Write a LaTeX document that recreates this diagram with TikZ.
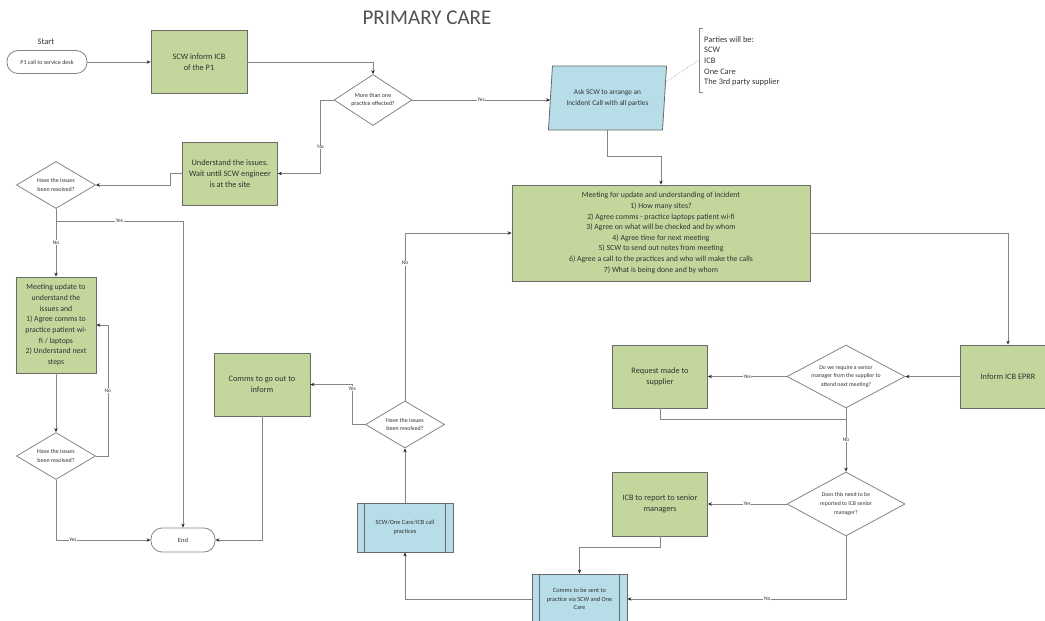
\documentclass[tikz,border=0pt]{standalone}
\usepackage{fontspec}
\setmainfont{Carlito}
\usepackage{xcolor}
\usepackage{tikz}
\usetikzlibrary{arrows.meta, shapes.geometric, calc}

\definecolor{boxgreen}{HTML}{C3D69B}
\definecolor{boxblue}{HTML}{B7DDE8}
\definecolor{boxline}{HTML}{6A6A6A}
\definecolor{linegrey}{HTML}{858585}
\definecolor{txt}{HTML}{333333}

\begin{document}
\begin{tikzpicture}[
        x = 1pt, y = -1pt, % one unit per pixel, y grows downwards
        > = {Stealth[length=4pt, width=3.4pt, color=black!85]}, % arrow head style
        flow/.style = {draw=linegrey, line width=0.8pt}, % connector style
        box/.style = {rectangle, draw=boxline, line width=0.8pt, fill=boxgreen,
            align=center, minimum width=95, minimum height=63, inner sep=1pt,
            text=txt, font=\fontsize{8.3}{10.7}\selectfont},
        subproc/.style = {box, fill=boxblue, font=\fontsize{6.3}{8.6}\selectfont},
        inputbox/.style = {trapezium, trapezium left angle=80, trapezium right angle=100,
            trapezium stretches=true, draw=boxline, line width=0.8pt, fill=boxblue,
            align=center, inner sep=0pt, text=txt, font=\fontsize{7.3}{10.7}\selectfont},
        decision/.style = {diamond, draw=linegrey, line width=0.8pt, fill=white,
            align=center, inner sep=0pt, text=txt, font=\fontsize{6}{8.6}\selectfont},
        terminal/.style = {rectangle, rounded corners=11pt, draw=linegrey, line width=0.8pt,
            align=center, text=txt, font=\fontsize{6}{8}\selectfont},
        lab/.style = {fill=white, inner sep=0.6pt, text=txt, font=\fontsize{5.5}{6}\selectfont},
    ]
    \useasboundingbox (0,0) rectangle (1045,621);

    % Title and start
    \node[text=txt!85, font=\fontsize{21}{25}\selectfont] (title) at (427,18) {PRIMARY CARE};
    \node[text=txt, font=\fontsize{8.5}{10}\selectfont] (startlbl) at (46,42) {Start};
    \node[terminal, minimum width=80, minimum height=23] (start) at (47,62) {P1 call to service desk};
    \node[terminal, minimum width=64, minimum height=24, font=\fontsize{6.5}{8}\selectfont] (end) at (183,540) {End};

    % Process boxes
    \node[box, minimum width=96] (inform) at (199,62) {SCW inform ICB\\of the P1};
    \node[box] (understand) at (230,173.5) {Understand the issues.\\Wait until SCW engineer\\is at the site};
    \node[box, minimum width=80, minimum height=96, font=\fontsize{7.8}{10.7}\selectfont] (update) at (56,325)
        {Meeting update to\\understand the\\issues and\\1) Agree comms to\\practice patient wi-\\fi / laptops\\2) Understand next\\steps};
    \node[box, minimum width=96] (comms) at (262,384.5) {Comms to go out to\\inform};
    \node[box, minimum width=298, minimum height=96, font=\fontsize{7.8}{10.6}\selectfont] (meet) at (661,233)
        {Meeting for update and understanding of incident\\
         1) How many sites?\\
         2) Agree comms - practice laptops patient wi-fi\\
         3) Agree on what will be checked and by whom\\
         4) Agree time for next meeting\\
         5) SCW to send out notes from meeting\\
         6) Agree a call to the practices and who will make the calls\\
         7) What is being done and by whom};
    \node[box] (eprr) at (1008,376.5) {Inform ICB EPRR};
    \node[box] (request) at (660,376.5) {Request made to\\supplier};
    \node[box, minimum height=64] (report) at (660,504) {ICB to report to senior\\managers};
    \node[inputbox, minimum width=119, minimum height=64] (ask) at (607.5,98) {Ask SCW to arrange an\\Incident Call with all parties};

    % Predefined processes
    \node[subproc, minimum width=96, minimum height=49] (calls) at (405,527.5) {SCW/One Care/ICB call\\practices};
    \node[subproc, minimum height=50] (send) at (579.5,599) {Comms to be sent to\\practice via SCW and One\\Care};
    \foreach \i in {calls, send} {
        \draw[boxline, line width=0.8pt] ([xshift=8]\i.north west) -- ([xshift=8]\i.south west)
            ([xshift=-8]\i.north east) -- ([xshift=-8]\i.south east);
    }

    % Decisions
    \node[decision, minimum width=78, minimum height=51, shape aspect=1.53] (multi) at (373,100) {More than one\\practice effected?};
    \foreach \pos/\i in {
        (56,185)/resolvedA,
        (56,456)/resolvedB,
        (405,424.5)/resolvedC} {
        \node[decision, minimum width=79, minimum height=47, shape aspect=1.68] (\i) at \pos {Have the issues\\been resolved?};
    }
    \node[decision, minimum width=118, minimum height=63, shape aspect=1.87, font=\fontsize{5.8}{8.6}\selectfont] (senior) at (846,376.5)
        {Do we require a senior\\manager from the supplier to\\attend next meeting?};
    \node[decision, minimum width=118, minimum height=64, shape aspect=1.87, font=\fontsize{5.8}{8.6}\selectfont] (check) at (846,504)
        {Does this need to be\\reported to ICB senior\\manager?};

    % Note on the parties
    \node[anchor=north west, align=left, inner sep=0pt, text=txt, font=\fontsize{8.4}{10.7}\selectfont] (note) at (704,36)
        {Parties will be:\\SCW\\ICB\\One Care\\The 3rd party supplier};
    \draw[linegrey, line width=0.7pt] (703,28) -- (699,28) -- (699,92) -- (703,92);
    \coordinate (brk) at (699,60);
    \draw[linegrey!70, densely dotted, line width=0.6pt]
        ($(ask.top right corner)!0.25!(ask.bottom right corner)$) -- (brk);

    % Straight edges
    \foreach \b/\e in {
        start/inform,
        eprr/senior,
        calls/resolvedC,
        update/resolvedB} {
        \draw[flow, ->] (\b) -- (\e);
    }

    % Routed edges
    \draw[flow, ->] (inform.east) -| (multi.north);
    \draw[flow, ->] (multi.east) -- node[lab]{Yes} (multi.east -| ask.west);
    \draw[flow, ->] (ask.south) -- ++(0,26) -| (meet.north);
    \draw[flow, ->] (meet.east) -| (eprr.north);
    \draw[flow, ->] (senior.west) -- node[lab]{Yes} (request.east);
    \coordinate (join) at (846,419);
    \draw[flow] (request.south) |- (join);
    \draw[flow, ->] (senior.south) -- node[lab]{No} (check.north);
    \draw[flow, ->] (check.west) -- node[lab]{Yes} (report.east);
    \draw[flow, ->] (report.south) -- ++(0,11) -| (send.north);
    \draw[flow, ->] (check.south) |- node[lab, pos=0.68]{No} (send.east);
    \draw[flow, ->] (send.west) -| (calls.south);
    \draw[flow, ->] (resolvedC.north) |- node[lab, pos=0.41]{No} (meet.west);
    \draw[flow, ->] (resolvedC.west) -- ++(-13,0) |- node[lab, pos=0.45]{Yes} (comms.east);
    \draw[flow, ->] (comms.south) |- (end.east);
    \draw[flow, ->] (multi.west) -- ++(-13,0) |- node[lab, pos=0.32]{No} (understand.east);
    \draw[flow, ->] (understand.west) -- ++(-12,0) |- (resolvedA.east);
    \draw[flow, ->] (resolvedA.south) -- node[lab]{No} (update.north);
    \draw[flow, ->] (resolvedA.south) -- ++(0,12) -| node[lab, pos=0.25]{Yes} (end.north);
    \draw[flow, ->] (resolvedB.east) -- ++(12,0) |- node[lab, pos=0.25]{No} (update.east);
    \draw[flow, ->] (resolvedB.south) |- node[lab, pos=0.59]{Yes} (end.west);
\end{tikzpicture}
\end{document}
